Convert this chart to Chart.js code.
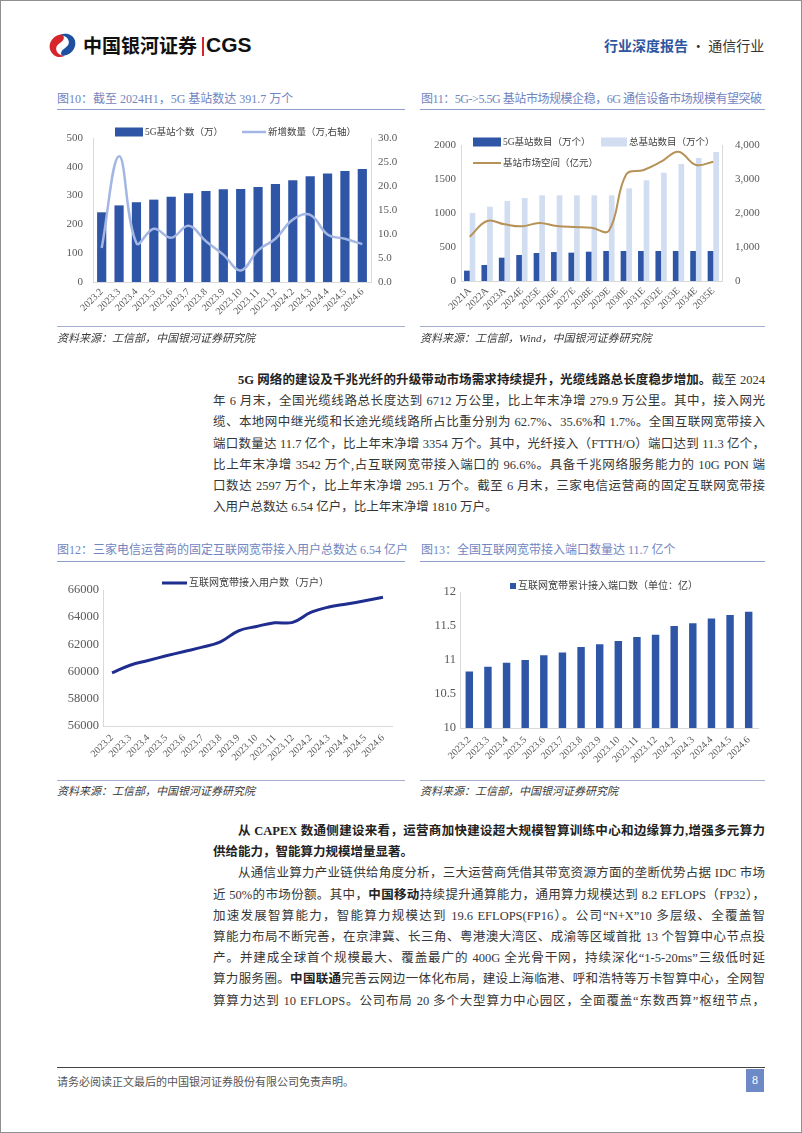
<!DOCTYPE html>
<html lang="zh-CN">
<head>
<meta charset="utf-8">
<title>行业深度报告 · 通信行业</title>
<script src="https://cdn.jsdelivr.net/npm/chart.js@4.4.1/dist/chart.umd.min.js"></script>
<style>
html, body { margin: 0; padding: 0; background: #fff; }
#page { position: relative; width: 802px; height: 1133px; overflow: hidden;
        font-family: 'Liberation Serif', 'Noto Sans CJK SC', serif; color: #333; }
#frame { position: absolute; left: 0; top: 0; width: 802px; height: 1133px; box-sizing: border-box;
         border: 1px solid #8f8f8f; pointer-events: none; }
.cap { position: absolute; font-size: 12px; line-height: 14px; color: #7185bf; white-space: nowrap; }
.rule { position: absolute; height: 0; border-top: 1.5px solid #8e9dc9; }
.srule { position: absolute; height: 0; border-top: 1px solid #a3aed0; }
.src { position: absolute; font-size: 11px; line-height: 12px; font-style: italic; color: #3a3a3a; white-space: nowrap; }
.txt { position: absolute; left: 213px; width: 552px; font-size: 12.5px; line-height: 21.2px; color: #363636; }
.txt div { white-space: nowrap; text-align: justify; text-align-last: justify; }
.txt div.last { text-align-last: left; }
.txt div.ind { text-indent: 25px; }
.txt b { color: #222; }
canvas { position: absolute; }
</style>
</head>
<body>
<div id="page">
  <!-- 页眉 -->
  <svg style="position:absolute;left:47px;top:32px" width="31" height="27" viewBox="0 0 30 26">
    <path d="M14 2 C6 3,1 10,3 17 C5 23,12 26,17 23 C12 23,8 19,9 15 C10 11,15 10,16 7 C17 5,16 3,14 2 Z" fill="#d7262b"/>
    <path d="M16 23 C24 22,29 15,27 8 C25 2,18 0,13 3 C18 3,22 7,21 11 C20 15,15 16,14 19 C13 21,14 23,16 23 Z" fill="#1f4fa0"/>
  </svg>
  <div style="position:absolute;left:83px;top:34px;font:bold 19px/22px 'Noto Sans CJK SC';color:#111;white-space:nowrap">中国银河证券</div>
  <div style="position:absolute;left:202px;top:37px;width:1.5px;height:19px;background:#d7262b"></div>
  <div style="position:absolute;left:206px;top:33px;font:bold 21px/24px 'Liberation Sans';color:#111">CGS</div>
  <div style="position:absolute;left:604px;top:36px;font-size:14px;line-height:18px;white-space:nowrap;font-family:'Noto Sans CJK SC'">
    <span style="color:#2d56a0;font-weight:bold">行业深度报告</span><span style="color:#333"> · 通信行业</span>
  </div>

  <!-- 图10 / 图11 -->
  <div class="cap" style="left:57px;top:92px">图10：截至 2024H1，5G 基站数达 391.7 万个</div>
  <div class="rule" style="left:57px;top:109px;width:348px"></div>
  <div class="cap" style="left:421px;top:92px;letter-spacing:-0.45px">图11：5G-&gt;5.5G 基站市场规模企稳，6G 通信设备市场规模有望突破</div>
  <div class="rule" style="left:420px;top:109px;width:345px"></div>
  <canvas id="c1" width="360" height="215" style="left:50px;top:112px"></canvas>
  <canvas id="c2" width="370" height="215" style="left:410px;top:112px"></canvas>
  <div class="srule" style="left:57px;top:326px;width:348px"></div>
  <div class="src" style="left:57px;top:332px">资料来源：工信部，中国银河证券研究院</div>
  <div class="srule" style="left:420px;top:326px;width:345px"></div>
  <div class="src" style="left:420px;top:332px">资料来源：工信部，Wind，中国银河证券研究院</div>

  <div class="txt" style="top:370px">
    <div class="ind"><b>5G 网络的建设及千兆光纤的升级带动市场需求持续提升，光缆线路总长度稳步增加。</b>截至 2024</div>
    <div>年 6 月末，全国光缆线路总长度达到 6712 万公里，比上年末净增 279.9 万公里。其中，接入网光</div>
    <div>缆、本地网中继光缆和长途光缆线路所占比重分别为 62.7%、35.6%和 1.7%。全国互联网宽带接入</div>
    <div>端口数量达 11.7 亿个，比上年末净增 3354 万个。其中，光纤接入（FTTH/O）端口达到 11.3 亿个，</div>
    <div>比上年末净增 3542 万个,占互联网宽带接入端口的 96.6%。具备千兆网络服务能力的 10G PON 端</div>
    <div>口数达 2597 万个，比上年末净增 295.1 万个。截至 6 月末，三家电信运营商的固定互联网宽带接</div>
    <div class="last">入用户总数达 6.54 亿户，比上年末净增 1810 万户。</div>
  </div>

  <!-- 图12 / 图13 -->
  <div class="cap" style="left:57px;top:543px">图12：三家电信运营商的固定互联网宽带接入用户总数达 6.54 亿户</div>
  <div class="rule" style="left:57px;top:561px;width:348px"></div>
  <div class="cap" style="left:421px;top:543px">图13：全国互联网宽带接入端口数量达 11.7 亿个</div>
  <div class="rule" style="left:420px;top:561px;width:345px"></div>
  <canvas id="c3" width="360" height="215" style="left:50px;top:565px"></canvas>
  <canvas id="c4" width="370" height="215" style="left:410px;top:565px"></canvas>
  <div class="srule" style="left:57px;top:780px;width:348px"></div>
  <div class="src" style="left:57px;top:785px">资料来源：工信部，中国银河证券研究院</div>
  <div class="srule" style="left:420px;top:780px;width:345px"></div>
  <div class="src" style="left:420px;top:785px">资料来源：工信部，中国银河证券研究院</div>

  <div class="txt" style="top:821px">
    <div class="ind"><b>从 CAPEX 数通侧建设来看，运营商加快建设超大规模智算训练中心和边缘算力,增强多元算力</b></div>
    <div class="last"><b>供给能力，智能算力规模增量显著。</b></div>
    <div class="ind">从通信业算力产业链供给角度分析，三大运营商凭借其带宽资源方面的垄断优势占据 IDC 市场</div>
    <div>近 50%的市场份额。其中，<b>中国移动</b>持续提升通算能力，通用算力规模达到 8.2 EFLOPS（FP32），</div>
    <div>加速发展智算能力，智能算力规模达到 19.6 EFLOPS(FP16）。公司“N+X”10 多层级、全覆盖智</div>
    <div>算能力布局不断完善，在京津冀、长三角、粤港澳大湾区、成渝等区域首批 13 个智算中心节点投</div>
    <div>产。并建成全球首个规模最大、覆盖最广的 400G 全光骨干网，持续深化“1-5-20ms”三级低时延</div>
    <div>算力服务圈。<b>中国联通</b>完善云网边一体化布局，建设上海临港、呼和浩特等万卡智算中心，全网智</div>
    <div>算算力达到 10 EFLOPS。公司布局 20 多个大型算力中心园区，全面覆盖“东数西算”枢纽节点，</div>
  </div>

  <!-- 页脚 -->
  <div style="position:absolute;left:57px;top:1067px;width:708px;border-top:1.5px solid #444"></div>
  <div style="position:absolute;left:57px;top:1075px;font-size:11px;line-height:14px;color:#555;white-space:nowrap">请务必阅读正文最后的中国银河证券股份有限公司免责声明。</div>
  <div style="position:absolute;left:746px;top:1069px;width:18px;height:23px;background:#6d89c6;color:#fff;font-size:12px;line-height:23px;text-align:center">8</div>
  <div id="frame"></div>
</div>

<script>
const FONT = "'Liberation Serif', 'Noto Sans CJK SC', serif";

// 图10 5G基站个数与新增数量
const months = ['2023.2', '2023.3', '2023.4', '2023.5', '2023.6', '2023.7', '2023.8', '2023.9',
    '2023.10', '2023.11', '2023.12', '2024.2', '2024.3', '2024.4', '2024.5', '2024.6'];
const jumlahBTS = [242, 266, 277, 286, 296, 308, 316, 322, 323, 330, 340, 353, 367, 377, 385, 392];
const tambahanBTS = [7.1, 26.2, 8.1, 11.1, 9.2, 11.7, 8.5, 5.7, 2.4, 6.6, 9.0, 13.0, 14.0, 9.9, 9.0, 7.9];

// 图11 基站数目预测与市场空间
const years = ['2021A', '2022A', '2023A', '2024E', '2025E', '2026E', '2027E', '2028E',
    '2029E', '2030E', '2031E', '2032E', '2033E', '2034E', '2035E'];
const bts5g = [152, 235, 343, 382, 412, 426, 417, 431, 441, 441, 441, 441, 441, 441, 441];
const btsTotal = [1000, 1093, 1176, 1220, 1260, 1260, 1260, 1260, 1260, 1363, 1480, 1593, 1720, 1809, 1897];
const pasarBTS = [1304, 1765, 1667, 1608, 1706, 1618, 1588, 1569, 1480, 3137, 3265, 3510, 3804, 3412, 3510];

// 图12 固定互联网宽带接入用户数（万户）
const penggunaBroadband = [59900, 60470, 60820, 61160, 61480, 61800, 62190, 63000,
    63320, 63590, 63620, 64350, 64750, 64970, 65210, 65460];

// 图13 互联网宽带累计接入端口数（亿）
const portBroadband = [10.83, 10.90, 10.96, 11.00, 11.07, 11.11, 11.19, 11.23,
    11.28, 11.34, 11.37, 11.50, 11.54, 11.61, 11.66, 11.71];

const BIRU = '#2f56a6';

Chart.defaults.font.family = FONT;
Chart.defaults.color = '#595959';
Chart.defaults.animation = false;

// legend digambar sendiri supaya posisinya sama dengan gambar asli
const legendManual = {
    id: 'legendManual',
    afterDraw(chart, args, opts) {
        const ctx = chart.ctx;
        ctx.save();
        ctx.font = opts.size + 'px ' + FONT;
        ctx.textBaseline = 'middle';
        opts.items.forEach(it => {
            const ds = chart.data.datasets[it.index];
            if (it.kind === 'line') {
                ctx.strokeStyle = ds.borderColor;
                ctx.lineWidth = ds.borderWidth;
                ctx.beginPath();
                ctx.moveTo(it.x, it.y);
                ctx.lineTo(it.x + it.w, it.y);
                ctx.stroke();
            } else {
                ctx.fillStyle = ds.backgroundColor;
                ctx.fillRect(it.x, it.y - it.h / 2, it.w, it.h);
            }
            ctx.fillStyle = '#404040';
            ctx.fillText(ds.label, it.x + it.w + 2, it.y + 0.5);
        });
        ctx.restore();
    }
};

function sumbuX(tinggi, pad) {
    return {
        offset: true,
        grid: { display: false, drawTicks: false },
        border: { color: '#d9d9d9' },
        ticks: { autoSkip: false, minRotation: 45, maxRotation: 45, padding: pad, font: { size: 10 } },
        afterFit: s => { s.height = tinggi; }
    };
}

function sumbuY(posisi, lebar, min, max, step, pad, size, fmt) {
    return {
        position: posisi, min: min, max: max,
        grid: { display: false, drawTicks: false },
        border: { color: '#d9d9d9' },
        ticks: { stepSize: step, padding: pad, font: { size: size }, callback: fmt },
        afterFit: s => { s.width = lebar; }
    };
}

// 图10
new Chart(document.getElementById('c1'), {
    type: 'bar',
    data: {
        labels: months,
        datasets: [{
            type: 'line',
            label: '新增数量（万,右轴）',
            data: tambahanBTS,
            yAxisID: 'y1',
            borderColor: '#a4b6e4',
            borderWidth: 2.5,
            pointRadius: 0,
            tension: 0.4,
            order: 0
        }, {
            label: '5G基站个数（万）',
            data: jumlahBTS,
            yAxisID: 'y',
            backgroundColor: BIRU,
            categoryPercentage: 1,
            barPercentage: 0.53,
            order: 1
        }]
    },
    options: {
        responsive: false,
        devicePixelRatio: 1,
        layout: { padding: { top: 26, left: 0, right: 0, bottom: 0 } },
        plugins: {
            legend: { display: false },
            tooltip: { enabled: false },
            legendManual: {
                size: 9.5,
                items: [
                    { index: 1, kind: 'rect', x: 65, y: 20, w: 28, h: 9 },
                    { index: 0, kind: 'line', x: 192, y: 20, w: 24 }
                ]
            }
        },
        scales: {
            x: sumbuX(45, 4),
            y: sumbuY('left', 43, 0, 500, 100, 10, 11, v => v),
            y1: sumbuY('right', 39, 0, 30, 5, 7, 11, v => v.toFixed(1))
        }
    },
    plugins: [legendManual]
});

// 图11
new Chart(document.getElementById('c2'), {
    type: 'bar',
    data: {
        labels: years,
        datasets: [{
            type: 'line',
            label: '基站市场空间（亿元）',
            data: pasarBTS,
            yAxisID: 'y1',
            borderColor: '#b79257',
            borderWidth: 2,
            pointRadius: 0,
            tension: 0.4,
            order: 0
        }, {
            label: '5G基站数目（万个）',
            data: bts5g,
            yAxisID: 'y',
            backgroundColor: BIRU,
            categoryPercentage: 0.65,
            barPercentage: 1,
            order: 1
        }, {
            label: '总基站数目（万个）',
            data: btsTotal,
            yAxisID: 'y',
            backgroundColor: '#d1ddf1',
            categoryPercentage: 0.65,
            barPercentage: 1,
            order: 2
        }]
    },
    options: {
        responsive: false,
        devicePixelRatio: 1,
        layout: { padding: { top: 33, left: 0, right: 0, bottom: 0 } },
        plugins: {
            legend: { display: false },
            tooltip: { enabled: false },
            legendManual: {
                size: 9.5,
                items: [
                    { index: 1, kind: 'rect', x: 63, y: 30, w: 28, h: 9 },
                    { index: 2, kind: 'rect', x: 191, y: 30, w: 26, h: 9 },
                    { index: 0, kind: 'line', x: 63, y: 51, w: 28 }
                ]
            }
        },
        scales: {
            x: sumbuX(46, 4),
            y: sumbuY('left', 51, 0, 2000, 500, 5, 11, v => v),
            y1: sumbuY('right', 58, 0, 4000, 1000, 13, 11, v => v.toLocaleString('en-US'))
        }
    },
    plugins: [legendManual]
});

// 图12
new Chart(document.getElementById('c3'), {
    type: 'line',
    data: {
        labels: months,
        datasets: [{
            label: '互联网宽带接入用户数（万户）',
            data: penggunaBroadband,
            borderColor: '#1f2d8f',
            borderWidth: 3,
            pointRadius: 0,
            tension: 0.4
        }]
    },
    options: {
        responsive: false,
        devicePixelRatio: 1,
        layout: { padding: { top: 25, left: 0, right: 18, bottom: 0 } },
        plugins: {
            legend: { display: false },
            tooltip: { enabled: false },
            legendManual: {
                size: 10,
                items: [{ index: 0, kind: 'line', x: 112, y: 18, w: 25 }]
            }
        },
        scales: {
            x: sumbuX(54, 6),
            y: sumbuY('left', 53, 56000, 66000, 2000, 4, 12.5, v => String(v))
        }
    },
    plugins: [legendManual]
});

// 图13
new Chart(document.getElementById('c4'), {
    type: 'bar',
    data: {
        labels: months,
        datasets: [{
            label: '互联网宽带累计接入端口数（单位：亿）',
            data: portBroadband,
            backgroundColor: BIRU,
            categoryPercentage: 1,
            barPercentage: 0.4
        }]
    },
    options: {
        responsive: false,
        devicePixelRatio: 1,
        layout: { padding: { top: 27, left: 0, right: 22, bottom: 0 } },
        plugins: {
            legend: { display: false },
            tooltip: { enabled: false },
            legendManual: {
                size: 10,
                items: [{ index: 0, kind: 'rect', x: 100, y: 21, w: 6, h: 6 }]
            }
        },
        scales: {
            x: sumbuX(52, 6),
            y: sumbuY('left', 50, 10, 12, 0.5, 4, 12.5, v => String(v))
        }
    },
    plugins: [legendManual]
});
</script>
</body>
</html>
